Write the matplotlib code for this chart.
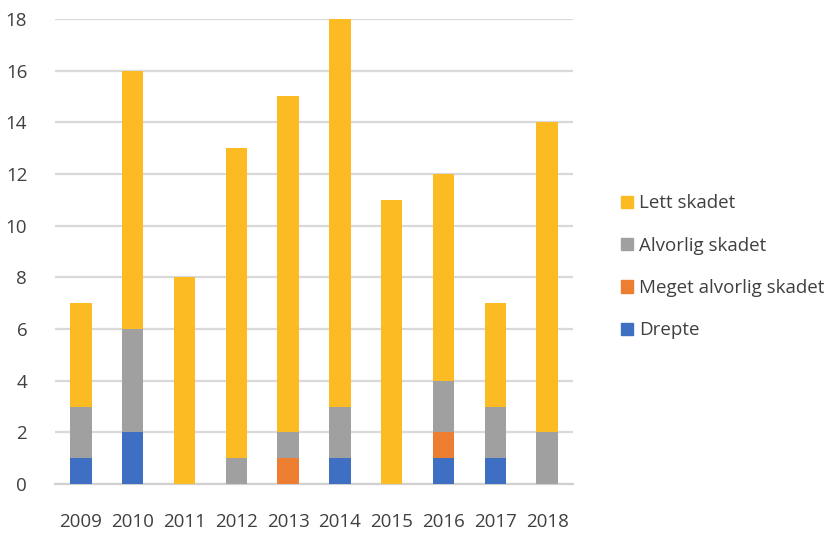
import matplotlib
matplotlib.use("Agg")
from matplotlib import pyplot as plt
from matplotlib.patches import Patch
import numpy as np

# injury counts per year
years = ["2009", "2010", "2011", "2012", "2013", "2014", "2015", "2016", "2017", "2018"]
drepte = [1, 2, 0, 0, 0, 1, 0, 1, 1, 0]
meget_alvorlig = [0, 0, 0, 0, 1, 0, 0, 1, 0, 0]
alvorlig = [2, 4, 0, 1, 1, 2, 0, 2, 2, 2]
lett = [4, 10, 8, 12, 13, 15, 11, 8, 4, 12]

labels = ["Drepte", "Meget alvorlig skadet", "Alvorlig skadet", "Lett skadet"]
colors = ["#3f6fc2", "#ed7d31", "#a0a0a0", "#fcbb22"]

plt.rcParams['font.family'] = ['Open Sans', 'DejaVu Sans']

fig = plt.figure(figsize=(8.31, 5.33), dpi=100)
ax = fig.add_axes([0.0662, 0.0919, 0.6233, 0.8725])

x = np.arange(len(years))
bottom = np.zeros(len(years))
for vals, col in zip([drepte, meget_alvorlig, alvorlig, lett], colors):
    ax.bar(x, vals, width=0.41, bottom=bottom, color=col, zorder=3)
    bottom += np.array(vals)

ax.set_xlim(-0.5, len(years) - 0.5)
ax.set_ylim(0, 18)
ax.set_yticks(range(0, 19, 2))
ax.set_xticks(x)
ax.set_xticklabels(years)
ax.grid(axis='y', color='#d9d9d9', lw=1.6, zorder=0)
for s in ['top', 'right', 'left']:
    ax.spines[s].set_visible(False)
ax.spines['bottom'].set_color('#d0d0d0')
ax.spines['bottom'].set_linewidth(1.6)
ax.tick_params(axis='both', length=0, labelsize=13.5, colors='#404040')
ax.tick_params(axis='y', pad=20)
ax.tick_params(axis='x', pad=21)

# legend, top entry first
handles = [Patch(color=c) for c in colors[::-1]]
fig.legend(handles, labels[::-1], loc='upper left', bbox_to_anchor=(0.727, 0.667),
           frameon=False, fontsize=13.5, handlelength=0.65, handleheight=0.65,
           handletextpad=0.3, labelspacing=1.3, labelcolor='#404040')

fig.savefig("out.png", dpi=100)
